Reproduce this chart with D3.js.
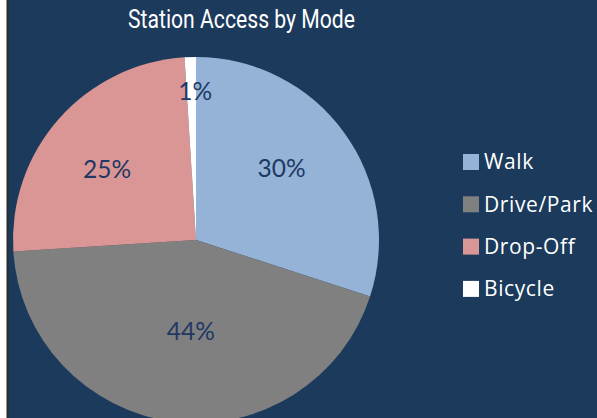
<!DOCTYPE html>
<html>
<head>
<meta charset="utf-8">
<script src="https://cdn.jsdelivr.net/npm/d3@7"></script>
<style>
  body { margin: 0; background: #fff; }
  svg { display: block; }
</style>
</head>
<body>
<svg width="597" height="418"></svg>
<script>
const modes = [ 'Walk', 'Drive/Park', 'Drop-Off', 'Bicycle' ],
	shares = [ 30, 44, 25, 1 ],
	colors = [ '#95b3d7', '#808080', '#d99694', '#ffffff' ],
	// how far out each label sits (part of radius) and a small angle nudge in degrees
	labelPos = [ 0.61, 0.5, 0.62, 0.81 ],
	labelTurn = [ -4, -4, -3, 1.5 ]

const svg = d3.select( 'svg' ),
	width = 597,
	height = 418,
	radius = 183,
	cx = 196,
	cy = 240

// backdrop with the thin dark rule on the left
svg.append( 'rect' )
	.attr( 'x', 8 ).attr( 'y', 0 )
	.attr( 'width', width - 8 ).attr( 'height', height )
	.attr( 'fill', '#1b3a5c' )

svg.append( 'line' )
	.attr( 'x1', 7.5 ).attr( 'x2', 7.5 )
	.attr( 'y1', 0 ).attr( 'y2', height )
	.attr( 'stroke', '#2b2b2b' )
	.attr( 'stroke-width', 2 )

svg.append( 'text' )
	.attr( 'x', 128 )
	.attr( 'y', 28 )
	.attr( 'fill', '#fff' )
	.attr( 'font-family', 'Roboto, sans-serif' )
	.attr( 'font-size', 25 )
	.attr( 'textLength', 227 )
	.attr( 'lengthAdjust', 'spacingAndGlyphs' )
	.text( 'Station Access by Mode' )

const pie = d3.pie().sort( null ).value( d => d.value ),
	arc = d3.arc().innerRadius( 0 ).outerRadius( radius ),
	rows = modes.map( ( m, i ) => ( { name: m, value: shares[ i ], i } ) )

const g = svg.append( 'g' )
	.attr( 'transform', `translate(${cx},${cy})` )

const slices = g.selectAll( 'g' )
	.data( pie( rows ) )
	.enter()
	.append( 'g' )

slices.append( 'path' )
	.attr( 'd', arc )
	.attr( 'fill', d => colors[ d.data.i ] )

slices.append( 'text' )
	.attr( 'transform', d => {
		const r = radius * labelPos[ d.data.i ],
			a = ( d.startAngle + d.endAngle ) / 2 + labelTurn[ d.data.i ] * Math.PI / 180
		return `translate(${Math.sin( a ) * r},${-Math.cos( a ) * r})`
	})
	.attr( 'dy', '0.35em' )
	.attr( 'text-anchor', 'middle' )
	.attr( 'fill', '#1f3864' )
	.attr( 'font-family', 'Lato, sans-serif' )
	.attr( 'font-size', 24.5 )
	.text( d => d.data.value + '%' )

// legend
const legend = svg.append( 'g' )
	.attr( 'font-family', '"Open Sans", sans-serif' )
	.attr( 'font-size', 21 )
	.attr( 'letter-spacing', 0.6 )
	.selectAll( 'g' )
	.data( rows )
	.enter()
	.append( 'g' )
	.attr( 'transform', d => `translate(463,${162 + d.i * 42.3})` )

legend.append( 'rect' )
	.attr( 'x', 0 ).attr( 'y', -8 )
	.attr( 'width', 16 ).attr( 'height', 16 )
	.attr( 'fill', d => colors[ d.i ] )

legend.append( 'text' )
	.attr( 'x', 21 )
	.attr( 'dy', '0.35em' )
	.attr( 'fill', '#fff' )
	.text( d => d.name )
</script>
</body>
</html>
